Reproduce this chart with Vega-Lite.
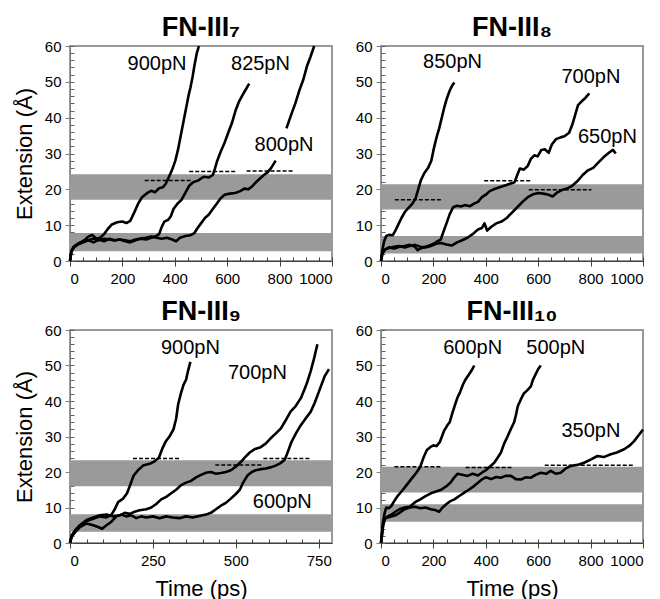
{
  "$schema": "https://vega.github.io/schema/vega-lite/v6.json",
  "padding": {"left": 12, "top": 13, "right": 0, "bottom": 0},
  "config": {
    "font": "Liberation Sans",
    "view": {"stroke": "#999999", "strokeWidth": 2},
    "title": {"fontSize": 27, "fontWeight": "bold", "offset": -3, "color": "black", "font": "Liberation Sans"},
    "axis": {"labelFontSize": 15, "titleFontSize": 22, "titleFontWeight": "normal", "labelColor": "black", "titleColor": "black", "grid": false, "labelOverlap": false, "labelFont": "Liberation Sans", "titleFont": "Liberation Sans", "zindex": 1}
  },
  "datasets": {
    "bands": [
      {"p": 7, "lo": 2.7, "hi": 7.8}, {"p": 7, "lo": 17.1, "hi": 24.2},
      {"p": 8, "lo": 2.1, "hi": 7.0}, {"p": 8, "lo": 14.4, "hi": 21.4},
      {"p": 9, "lo": 3.2, "hi": 8.1}, {"p": 9, "lo": 16.0, "hi": 23.3},
      {"p": 10, "lo": 6.0, "hi": 10.9}, {"p": 10, "lo": 14.2, "hi": 21.5}
    ],
    "dashes": [
      {"p": 7, "x1": 285, "x2": 465, "y": 22.5}, {"p": 7, "x1": 455, "x2": 633, "y": 25.0}, {"p": 7, "x1": 674, "x2": 852, "y": 25.1},
      {"p": 8, "x1": 53, "x2": 234, "y": 17.1}, {"p": 8, "x1": 394, "x2": 574, "y": 22.4}, {"p": 8, "x1": 564, "x2": 803, "y": 19.9},
      {"p": 9, "x1": 190, "x2": 331, "y": 23.8}, {"p": 9, "x1": 438, "x2": 581, "y": 22.0}, {"p": 9, "x1": 583, "x2": 724, "y": 23.8},
      {"p": 10, "x1": 51, "x2": 231, "y": 21.5}, {"p": 10, "x1": 323, "x2": 498, "y": 21.3}, {"p": 10, "x1": 625, "x2": 962, "y": 21.9}
    ],
    "labels": [
      {"p": 7, "x": 332, "y": 55, "label": "900pN"}, {"p": 7, "x": 727, "y": 55, "label": "825pN"}, {"p": 7, "x": 817, "y": 32.3, "label": "800pN"},
      {"p": 8, "x": 273, "y": 55.6, "label": "850pN"}, {"p": 8, "x": 801, "y": 51.4, "label": "700pN"}, {"p": 8, "x": 864, "y": 34.7, "label": "650pN"},
      {"p": 9, "x": 363, "y": 54.9, "label": "900pN"}, {"p": 9, "x": 565, "y": 47.8, "label": "700pN"}, {"p": 9, "x": 640, "y": 11.5, "label": "600pN"},
      {"p": 10, "x": 350, "y": 54.8, "label": "600pN"}, {"p": 10, "x": 667, "y": 54.8, "label": "500pN"}, {"p": 10, "x": 801, "y": 31.5, "label": "350pN"}
    ],
    "c7": [
      {"s": "900", "t": 0, "e": 0}, {"s": "900", "t": 5, "e": 2.5}, {"s": "900", "t": 12, "e": 3.8}, {"s": "900", "t": 25, "e": 4.5}, {"s": "900", "t": 40, "e": 5.2}, {"s": "900", "t": 55, "e": 5.8}, {"s": "900", "t": 70, "e": 6.8}, {"s": "900", "t": 85, "e": 7.3}, {"s": "900", "t": 100, "e": 6.2}, {"s": "900", "t": 115, "e": 6.5}, {"s": "900", "t": 130, "e": 7.5}, {"s": "900", "t": 145, "e": 9}, {"s": "900", "t": 160, "e": 10.2}, {"s": "900", "t": 180, "e": 10.8}, {"s": "900", "t": 200, "e": 11}, {"s": "900", "t": 215, "e": 10.6}, {"s": "900", "t": 230, "e": 11.2}, {"s": "900", "t": 245, "e": 13.5}, {"s": "900", "t": 260, "e": 16}, {"s": "900", "t": 275, "e": 17.8}, {"s": "900", "t": 295, "e": 19}, {"s": "900", "t": 310, "e": 19.6}, {"s": "900", "t": 325, "e": 19.2}, {"s": "900", "t": 340, "e": 20.3}, {"s": "900", "t": 355, "e": 20.6}, {"s": "900", "t": 365, "e": 21.5}, {"s": "900", "t": 378, "e": 23.5}, {"s": "900", "t": 390, "e": 25.5}, {"s": "900", "t": 402, "e": 28}, {"s": "900", "t": 412, "e": 31}, {"s": "900", "t": 420, "e": 34}, {"s": "900", "t": 428, "e": 37}, {"s": "900", "t": 436, "e": 40}, {"s": "900", "t": 444, "e": 43}, {"s": "900", "t": 452, "e": 46}, {"s": "900", "t": 460, "e": 48.5}, {"s": "900", "t": 468, "e": 51.5}, {"s": "900", "t": 476, "e": 55}, {"s": "900", "t": 484, "e": 58}, {"s": "900", "t": 492, "e": 60},
      {"s": "825", "t": 0, "e": 0}, {"s": "825", "t": 5, "e": 2.8}, {"s": "825", "t": 15, "e": 4}, {"s": "825", "t": 30, "e": 4.8}, {"s": "825", "t": 50, "e": 5.5}, {"s": "825", "t": 70, "e": 5.8}, {"s": "825", "t": 90, "e": 5.2}, {"s": "825", "t": 110, "e": 6}, {"s": "825", "t": 130, "e": 5.5}, {"s": "825", "t": 150, "e": 6.2}, {"s": "825", "t": 170, "e": 5.8}, {"s": "825", "t": 190, "e": 6}, {"s": "825", "t": 210, "e": 5.5}, {"s": "825", "t": 230, "e": 5.2}, {"s": "825", "t": 250, "e": 5.8}, {"s": "825", "t": 270, "e": 6.2}, {"s": "825", "t": 290, "e": 6}, {"s": "825", "t": 310, "e": 6.5}, {"s": "825", "t": 330, "e": 7}, {"s": "825", "t": 340, "e": 7.5}, {"s": "825", "t": 350, "e": 9.5}, {"s": "825", "t": 360, "e": 11}, {"s": "825", "t": 375, "e": 11.5}, {"s": "825", "t": 385, "e": 12.5}, {"s": "825", "t": 395, "e": 14.5}, {"s": "825", "t": 410, "e": 16}, {"s": "825", "t": 425, "e": 17}, {"s": "825", "t": 440, "e": 19}, {"s": "825", "t": 455, "e": 21}, {"s": "825", "t": 470, "e": 22}, {"s": "825", "t": 490, "e": 22.5}, {"s": "825", "t": 510, "e": 23.5}, {"s": "825", "t": 530, "e": 23.3}, {"s": "825", "t": 545, "e": 24}, {"s": "825", "t": 552, "e": 25.5}, {"s": "825", "t": 562, "e": 28}, {"s": "825", "t": 575, "e": 30.5}, {"s": "825", "t": 590, "e": 33}, {"s": "825", "t": 605, "e": 36}, {"s": "825", "t": 618, "e": 38.5}, {"s": "825", "t": 632, "e": 42}, {"s": "825", "t": 645, "e": 44.5}, {"s": "825", "t": 660, "e": 46.5}, {"s": "825", "t": 672, "e": 48}, {"s": "825", "t": 684, "e": 49.5},
      {"s": "800a", "t": 0, "e": 0}, {"s": "800a", "t": 5, "e": 2.5}, {"s": "800a", "t": 15, "e": 3.8}, {"s": "800a", "t": 30, "e": 4.6}, {"s": "800a", "t": 50, "e": 5.2}, {"s": "800a", "t": 70, "e": 5.8}, {"s": "800a", "t": 90, "e": 6.3}, {"s": "800a", "t": 110, "e": 5.8}, {"s": "800a", "t": 130, "e": 6.2}, {"s": "800a", "t": 150, "e": 6}, {"s": "800a", "t": 170, "e": 5.7}, {"s": "800a", "t": 190, "e": 6}, {"s": "800a", "t": 210, "e": 5.8}, {"s": "800a", "t": 230, "e": 5.5}, {"s": "800a", "t": 250, "e": 6}, {"s": "800a", "t": 270, "e": 6.3}, {"s": "800a", "t": 290, "e": 6.5}, {"s": "800a", "t": 310, "e": 6.8}, {"s": "800a", "t": 330, "e": 6.5}, {"s": "800a", "t": 350, "e": 6.2}, {"s": "800a", "t": 370, "e": 6.5}, {"s": "800a", "t": 390, "e": 6}, {"s": "800a", "t": 405, "e": 5.5}, {"s": "800a", "t": 420, "e": 6.5}, {"s": "800a", "t": 440, "e": 7}, {"s": "800a", "t": 460, "e": 7.2}, {"s": "800a", "t": 475, "e": 7.8}, {"s": "800a", "t": 485, "e": 9}, {"s": "800a", "t": 500, "e": 10.5}, {"s": "800a", "t": 515, "e": 12}, {"s": "800a", "t": 530, "e": 13}, {"s": "800a", "t": 545, "e": 14.5}, {"s": "800a", "t": 560, "e": 16}, {"s": "800a", "t": 575, "e": 17.5}, {"s": "800a", "t": 590, "e": 18.5}, {"s": "800a", "t": 610, "e": 18.8}, {"s": "800a", "t": 630, "e": 19}, {"s": "800a", "t": 650, "e": 19.5}, {"s": "800a", "t": 665, "e": 20.2}, {"s": "800a", "t": 680, "e": 20}, {"s": "800a", "t": 695, "e": 20.8}, {"s": "800a", "t": 710, "e": 22}, {"s": "800a", "t": 725, "e": 23}, {"s": "800a", "t": 740, "e": 24}, {"s": "800a", "t": 755, "e": 24.8}, {"s": "800a", "t": 768, "e": 26}, {"s": "800a", "t": 785, "e": 28},
      {"s": "800b", "t": 826, "e": 37}, {"s": "800b", "t": 845, "e": 41}, {"s": "800b", "t": 860, "e": 44}, {"s": "800b", "t": 875, "e": 47.5}, {"s": "800b", "t": 890, "e": 50.5}, {"s": "800b", "t": 905, "e": 54.5}, {"s": "800b", "t": 918, "e": 57}, {"s": "800b", "t": 932, "e": 60}
    ],
    "c8": [
      {"s": "850", "t": 0, "e": 0}, {"s": "850", "t": 5, "e": 3}, {"s": "850", "t": 12, "e": 5.5}, {"s": "850", "t": 20, "e": 7}, {"s": "850", "t": 30, "e": 7.3}, {"s": "850", "t": 45, "e": 7.2}, {"s": "850", "t": 55, "e": 8.5}, {"s": "850", "t": 65, "e": 10}, {"s": "850", "t": 78, "e": 12}, {"s": "850", "t": 92, "e": 13.8}, {"s": "850", "t": 105, "e": 14.8}, {"s": "850", "t": 120, "e": 16}, {"s": "850", "t": 132, "e": 17.5}, {"s": "850", "t": 142, "e": 20}, {"s": "850", "t": 152, "e": 22.5}, {"s": "850", "t": 165, "e": 24.5}, {"s": "850", "t": 180, "e": 26}, {"s": "850", "t": 192, "e": 28}, {"s": "850", "t": 202, "e": 31.5}, {"s": "850", "t": 212, "e": 34.5}, {"s": "850", "t": 222, "e": 37}, {"s": "850", "t": 232, "e": 40}, {"s": "850", "t": 242, "e": 43}, {"s": "850", "t": 252, "e": 45.5}, {"s": "850", "t": 262, "e": 47.5}, {"s": "850", "t": 272, "e": 49}, {"s": "850", "t": 280, "e": 49.8},
      {"s": "700", "t": 0, "e": 0}, {"s": "700", "t": 5, "e": 2}, {"s": "700", "t": 15, "e": 3.2}, {"s": "700", "t": 30, "e": 3.8}, {"s": "700", "t": 50, "e": 3.5}, {"s": "700", "t": 70, "e": 4}, {"s": "700", "t": 90, "e": 4.2}, {"s": "700", "t": 110, "e": 4.5}, {"s": "700", "t": 130, "e": 4}, {"s": "700", "t": 140, "e": 3}, {"s": "700", "t": 150, "e": 3.5}, {"s": "700", "t": 170, "e": 4}, {"s": "700", "t": 190, "e": 4.5}, {"s": "700", "t": 205, "e": 5}, {"s": "700", "t": 215, "e": 5.5}, {"s": "700", "t": 228, "e": 6}, {"s": "700", "t": 240, "e": 8.5}, {"s": "700", "t": 250, "e": 10.5}, {"s": "700", "t": 262, "e": 13}, {"s": "700", "t": 275, "e": 15}, {"s": "700", "t": 290, "e": 15.4}, {"s": "700", "t": 305, "e": 15.2}, {"s": "700", "t": 320, "e": 15.6}, {"s": "700", "t": 340, "e": 15.3}, {"s": "700", "t": 355, "e": 16}, {"s": "700", "t": 370, "e": 16.5}, {"s": "700", "t": 385, "e": 17.8}, {"s": "700", "t": 400, "e": 18.5}, {"s": "700", "t": 415, "e": 19.5}, {"s": "700", "t": 430, "e": 20}, {"s": "700", "t": 450, "e": 20.5}, {"s": "700", "t": 470, "e": 21}, {"s": "700", "t": 490, "e": 21.5}, {"s": "700", "t": 510, "e": 22}, {"s": "700", "t": 520, "e": 24}, {"s": "700", "t": 530, "e": 25.8}, {"s": "700", "t": 545, "e": 25.5}, {"s": "700", "t": 560, "e": 26.5}, {"s": "700", "t": 572, "e": 28.5}, {"s": "700", "t": 585, "e": 29.5}, {"s": "700", "t": 598, "e": 29.2}, {"s": "700", "t": 612, "e": 31}, {"s": "700", "t": 625, "e": 31.2}, {"s": "700", "t": 640, "e": 30.2}, {"s": "700", "t": 652, "e": 32.5}, {"s": "700", "t": 668, "e": 34}, {"s": "700", "t": 685, "e": 34.5}, {"s": "700", "t": 700, "e": 34.8}, {"s": "700", "t": 718, "e": 35.8}, {"s": "700", "t": 730, "e": 38}, {"s": "700", "t": 742, "e": 41}, {"s": "700", "t": 752, "e": 43.5}, {"s": "700", "t": 765, "e": 44.5}, {"s": "700", "t": 780, "e": 45.5}, {"s": "700", "t": 795, "e": 46.8},
      {"s": "650", "t": 0, "e": 0}, {"s": "650", "t": 5, "e": 2}, {"s": "650", "t": 15, "e": 3.2}, {"s": "650", "t": 30, "e": 3.6}, {"s": "650", "t": 50, "e": 4}, {"s": "650", "t": 70, "e": 4.2}, {"s": "650", "t": 90, "e": 3.8}, {"s": "650", "t": 110, "e": 4.2}, {"s": "650", "t": 130, "e": 4.5}, {"s": "650", "t": 150, "e": 4}, {"s": "650", "t": 170, "e": 3.8}, {"s": "650", "t": 190, "e": 4.2}, {"s": "650", "t": 210, "e": 4.8}, {"s": "650", "t": 230, "e": 5}, {"s": "650", "t": 250, "e": 4.6}, {"s": "650", "t": 270, "e": 4.3}, {"s": "650", "t": 290, "e": 5.2}, {"s": "650", "t": 310, "e": 5.8}, {"s": "650", "t": 330, "e": 6.5}, {"s": "650", "t": 350, "e": 7.5}, {"s": "650", "t": 370, "e": 8.8}, {"s": "650", "t": 385, "e": 9.2}, {"s": "650", "t": 395, "e": 10.5}, {"s": "650", "t": 405, "e": 8.5}, {"s": "650", "t": 420, "e": 9.5}, {"s": "650", "t": 440, "e": 10.5}, {"s": "650", "t": 460, "e": 11}, {"s": "650", "t": 480, "e": 12}, {"s": "650", "t": 500, "e": 13.5}, {"s": "650", "t": 520, "e": 15}, {"s": "650", "t": 540, "e": 16.5}, {"s": "650", "t": 560, "e": 17.8}, {"s": "650", "t": 580, "e": 18.6}, {"s": "650", "t": 600, "e": 19}, {"s": "650", "t": 620, "e": 18.8}, {"s": "650", "t": 640, "e": 18.5}, {"s": "650", "t": 655, "e": 18}, {"s": "650", "t": 670, "e": 19}, {"s": "650", "t": 690, "e": 19.8}, {"s": "650", "t": 710, "e": 20.2}, {"s": "650", "t": 730, "e": 21}, {"s": "650", "t": 750, "e": 22.3}, {"s": "650", "t": 770, "e": 24}, {"s": "650", "t": 790, "e": 25.3}, {"s": "650", "t": 810, "e": 26}, {"s": "650", "t": 830, "e": 27.5}, {"s": "650", "t": 850, "e": 29}, {"s": "650", "t": 870, "e": 30.2}, {"s": "650", "t": 885, "e": 31}, {"s": "650", "t": 896, "e": 30}
    ],
    "c9": [
      {"s": "900", "t": 0, "e": 0}, {"s": "900", "t": 5, "e": 2}, {"s": "900", "t": 15, "e": 3.5}, {"s": "900", "t": 30, "e": 5}, {"s": "900", "t": 50, "e": 6.2}, {"s": "900", "t": 70, "e": 6.8}, {"s": "900", "t": 90, "e": 7.5}, {"s": "900", "t": 110, "e": 7.2}, {"s": "900", "t": 125, "e": 8}, {"s": "900", "t": 135, "e": 9.5}, {"s": "900", "t": 145, "e": 11.5}, {"s": "900", "t": 160, "e": 12.5}, {"s": "900", "t": 172, "e": 14}, {"s": "900", "t": 182, "e": 16.5}, {"s": "900", "t": 192, "e": 19}, {"s": "900", "t": 205, "e": 20.5}, {"s": "900", "t": 220, "e": 21.8}, {"s": "900", "t": 240, "e": 22.3}, {"s": "900", "t": 255, "e": 23}, {"s": "900", "t": 268, "e": 24}, {"s": "900", "t": 278, "e": 26.5}, {"s": "900", "t": 288, "e": 28.5}, {"s": "900", "t": 300, "e": 30}, {"s": "900", "t": 312, "e": 32}, {"s": "900", "t": 320, "e": 35}, {"s": "900", "t": 326, "e": 39}, {"s": "900", "t": 334, "e": 42}, {"s": "900", "t": 342, "e": 44.5}, {"s": "900", "t": 350, "e": 46}, {"s": "900", "t": 356, "e": 48.5}, {"s": "900", "t": 363, "e": 51},
      {"s": "700", "t": 0, "e": 0}, {"s": "700", "t": 5, "e": 2}, {"s": "700", "t": 15, "e": 3.5}, {"s": "700", "t": 30, "e": 5}, {"s": "700", "t": 50, "e": 6.5}, {"s": "700", "t": 70, "e": 7.2}, {"s": "700", "t": 90, "e": 7.8}, {"s": "700", "t": 110, "e": 8}, {"s": "700", "t": 130, "e": 7.5}, {"s": "700", "t": 150, "e": 7.8}, {"s": "700", "t": 165, "e": 8.5}, {"s": "700", "t": 180, "e": 8.2}, {"s": "700", "t": 195, "e": 8.8}, {"s": "700", "t": 210, "e": 9.2}, {"s": "700", "t": 230, "e": 9.5}, {"s": "700", "t": 245, "e": 10}, {"s": "700", "t": 260, "e": 11}, {"s": "700", "t": 275, "e": 12.3}, {"s": "700", "t": 290, "e": 13}, {"s": "700", "t": 305, "e": 14}, {"s": "700", "t": 320, "e": 15}, {"s": "700", "t": 335, "e": 16.3}, {"s": "700", "t": 350, "e": 17}, {"s": "700", "t": 365, "e": 17.5}, {"s": "700", "t": 380, "e": 18.5}, {"s": "700", "t": 395, "e": 19.2}, {"s": "700", "t": 410, "e": 19.8}, {"s": "700", "t": 425, "e": 20}, {"s": "700", "t": 440, "e": 19.5}, {"s": "700", "t": 455, "e": 19.7}, {"s": "700", "t": 470, "e": 20}, {"s": "700", "t": 485, "e": 20.5}, {"s": "700", "t": 500, "e": 21.5}, {"s": "700", "t": 515, "e": 22.8}, {"s": "700", "t": 528, "e": 24.2}, {"s": "700", "t": 542, "e": 25.5}, {"s": "700", "t": 558, "e": 26.5}, {"s": "700", "t": 575, "e": 27}, {"s": "700", "t": 590, "e": 28}, {"s": "700", "t": 605, "e": 29.5}, {"s": "700", "t": 620, "e": 30.8}, {"s": "700", "t": 636, "e": 32.3}, {"s": "700", "t": 650, "e": 34.5}, {"s": "700", "t": 665, "e": 37}, {"s": "700", "t": 680, "e": 38.5}, {"s": "700", "t": 696, "e": 40.8}, {"s": "700", "t": 706, "e": 43}, {"s": "700", "t": 716, "e": 45.5}, {"s": "700", "t": 726, "e": 48.5}, {"s": "700", "t": 736, "e": 52}, {"s": "700", "t": 746, "e": 56},
      {"s": "600", "t": 0, "e": 0}, {"s": "600", "t": 5, "e": 1.8}, {"s": "600", "t": 15, "e": 3}, {"s": "600", "t": 30, "e": 4.5}, {"s": "600", "t": 50, "e": 5.5}, {"s": "600", "t": 70, "e": 5}, {"s": "600", "t": 85, "e": 4.5}, {"s": "600", "t": 97, "e": 4}, {"s": "600", "t": 110, "e": 5}, {"s": "600", "t": 125, "e": 6}, {"s": "600", "t": 140, "e": 7.5}, {"s": "600", "t": 155, "e": 8}, {"s": "600", "t": 170, "e": 7.5}, {"s": "600", "t": 185, "e": 7.8}, {"s": "600", "t": 200, "e": 7}, {"s": "600", "t": 215, "e": 7.5}, {"s": "600", "t": 230, "e": 7.2}, {"s": "600", "t": 250, "e": 7.5}, {"s": "600", "t": 270, "e": 7}, {"s": "600", "t": 290, "e": 7.5}, {"s": "600", "t": 310, "e": 7.2}, {"s": "600", "t": 330, "e": 7}, {"s": "600", "t": 350, "e": 7.5}, {"s": "600", "t": 370, "e": 7.2}, {"s": "600", "t": 390, "e": 7.6}, {"s": "600", "t": 410, "e": 8}, {"s": "600", "t": 425, "e": 8.5}, {"s": "600", "t": 440, "e": 9.5}, {"s": "600", "t": 455, "e": 10.5}, {"s": "600", "t": 470, "e": 11.3}, {"s": "600", "t": 485, "e": 12.5}, {"s": "600", "t": 500, "e": 13.8}, {"s": "600", "t": 512, "e": 15}, {"s": "600", "t": 522, "e": 17}, {"s": "600", "t": 535, "e": 19}, {"s": "600", "t": 548, "e": 20}, {"s": "600", "t": 560, "e": 20.5}, {"s": "600", "t": 575, "e": 20.8}, {"s": "600", "t": 590, "e": 21}, {"s": "600", "t": 605, "e": 21.3}, {"s": "600", "t": 620, "e": 21.8}, {"s": "600", "t": 635, "e": 22.5}, {"s": "600", "t": 648, "e": 23.5}, {"s": "600", "t": 658, "e": 26}, {"s": "600", "t": 668, "e": 28.5}, {"s": "600", "t": 682, "e": 31}, {"s": "600", "t": 696, "e": 33.2}, {"s": "600", "t": 710, "e": 35}, {"s": "600", "t": 726, "e": 37}, {"s": "600", "t": 738, "e": 39.5}, {"s": "600", "t": 748, "e": 42}, {"s": "600", "t": 758, "e": 44.5}, {"s": "600", "t": 768, "e": 47}, {"s": "600", "t": 781, "e": 49}
    ],
    "c10": [
      {"s": "600", "t": 0, "e": 0}, {"s": "600", "t": 4, "e": 3}, {"s": "600", "t": 8, "e": 6}, {"s": "600", "t": 14, "e": 8.5}, {"s": "600", "t": 20, "e": 10}, {"s": "600", "t": 30, "e": 9.8}, {"s": "600", "t": 40, "e": 10.5}, {"s": "600", "t": 52, "e": 12}, {"s": "600", "t": 64, "e": 13.3}, {"s": "600", "t": 78, "e": 14.5}, {"s": "600", "t": 90, "e": 15.6}, {"s": "600", "t": 105, "e": 17}, {"s": "600", "t": 120, "e": 18.4}, {"s": "600", "t": 135, "e": 19.8}, {"s": "600", "t": 150, "e": 21.5}, {"s": "600", "t": 162, "e": 24}, {"s": "600", "t": 175, "e": 26.2}, {"s": "600", "t": 188, "e": 27}, {"s": "600", "t": 200, "e": 27.5}, {"s": "600", "t": 212, "e": 27.3}, {"s": "600", "t": 225, "e": 28.5}, {"s": "600", "t": 240, "e": 31.5}, {"s": "600", "t": 252, "e": 33}, {"s": "600", "t": 262, "e": 34}, {"s": "600", "t": 272, "e": 36.5}, {"s": "600", "t": 282, "e": 38.8}, {"s": "600", "t": 292, "e": 41}, {"s": "600", "t": 302, "e": 42.5}, {"s": "600", "t": 312, "e": 44.5}, {"s": "600", "t": 322, "e": 46}, {"s": "600", "t": 335, "e": 47.4}, {"s": "600", "t": 345, "e": 48.5}, {"s": "600", "t": 356, "e": 50},
      {"s": "500", "t": 0, "e": 0}, {"s": "500", "t": 4, "e": 2.5}, {"s": "500", "t": 8, "e": 5}, {"s": "500", "t": 14, "e": 6.8}, {"s": "500", "t": 25, "e": 7.5}, {"s": "500", "t": 40, "e": 8}, {"s": "500", "t": 55, "e": 8.8}, {"s": "500", "t": 70, "e": 9.5}, {"s": "500", "t": 90, "e": 10}, {"s": "500", "t": 110, "e": 10.2}, {"s": "500", "t": 130, "e": 11.5}, {"s": "500", "t": 150, "e": 12.3}, {"s": "500", "t": 170, "e": 13.2}, {"s": "500", "t": 190, "e": 14}, {"s": "500", "t": 210, "e": 14.5}, {"s": "500", "t": 230, "e": 15}, {"s": "500", "t": 250, "e": 16}, {"s": "500", "t": 265, "e": 17}, {"s": "500", "t": 280, "e": 18.5}, {"s": "500", "t": 292, "e": 19.5}, {"s": "500", "t": 310, "e": 19.2}, {"s": "500", "t": 330, "e": 18.9}, {"s": "500", "t": 350, "e": 19.5}, {"s": "500", "t": 370, "e": 19}, {"s": "500", "t": 385, "e": 19.8}, {"s": "500", "t": 400, "e": 20.5}, {"s": "500", "t": 415, "e": 21.5}, {"s": "500", "t": 432, "e": 22.6}, {"s": "500", "t": 445, "e": 24}, {"s": "500", "t": 458, "e": 25.5}, {"s": "500", "t": 470, "e": 28}, {"s": "500", "t": 483, "e": 30}, {"s": "500", "t": 495, "e": 32}, {"s": "500", "t": 508, "e": 34}, {"s": "500", "t": 515, "e": 36}, {"s": "500", "t": 522, "e": 38.5}, {"s": "500", "t": 534, "e": 40.5}, {"s": "500", "t": 546, "e": 42.2}, {"s": "500", "t": 558, "e": 43}, {"s": "500", "t": 572, "e": 44.1}, {"s": "500", "t": 580, "e": 46}, {"s": "500", "t": 590, "e": 47.5}, {"s": "500", "t": 600, "e": 49}, {"s": "500", "t": 610, "e": 50},
      {"s": "350", "t": 0, "e": 0}, {"s": "350", "t": 4, "e": 2.5}, {"s": "350", "t": 8, "e": 5}, {"s": "350", "t": 14, "e": 6.8}, {"s": "350", "t": 25, "e": 7.2}, {"s": "350", "t": 40, "e": 7.5}, {"s": "350", "t": 55, "e": 7.8}, {"s": "350", "t": 70, "e": 8.5}, {"s": "350", "t": 90, "e": 9.5}, {"s": "350", "t": 110, "e": 10}, {"s": "350", "t": 130, "e": 10.2}, {"s": "350", "t": 150, "e": 9.8}, {"s": "350", "t": 170, "e": 10}, {"s": "350", "t": 190, "e": 9.5}, {"s": "350", "t": 210, "e": 9.2}, {"s": "350", "t": 222, "e": 8.8}, {"s": "350", "t": 235, "e": 10}, {"s": "350", "t": 250, "e": 11}, {"s": "350", "t": 265, "e": 11.8}, {"s": "350", "t": 280, "e": 12.3}, {"s": "350", "t": 300, "e": 13.3}, {"s": "350", "t": 318, "e": 14.2}, {"s": "350", "t": 335, "e": 15}, {"s": "350", "t": 356, "e": 16.1}, {"s": "350", "t": 370, "e": 17}, {"s": "350", "t": 385, "e": 17.9}, {"s": "350", "t": 400, "e": 18.5}, {"s": "350", "t": 420, "e": 18}, {"s": "350", "t": 440, "e": 18.6}, {"s": "350", "t": 457, "e": 18.4}, {"s": "350", "t": 475, "e": 18.9}, {"s": "350", "t": 496, "e": 18.9}, {"s": "350", "t": 515, "e": 18}, {"s": "350", "t": 534, "e": 17.9}, {"s": "350", "t": 552, "e": 18.5}, {"s": "350", "t": 572, "e": 18.4}, {"s": "350", "t": 590, "e": 19.2}, {"s": "350", "t": 610, "e": 19.8}, {"s": "350", "t": 630, "e": 19.5}, {"s": "350", "t": 648, "e": 20.3}, {"s": "350", "t": 668, "e": 19.5}, {"s": "350", "t": 686, "e": 19.8}, {"s": "350", "t": 705, "e": 21}, {"s": "350", "t": 724, "e": 21.7}, {"s": "350", "t": 750, "e": 22}, {"s": "350", "t": 775, "e": 22.6}, {"s": "350", "t": 800, "e": 23.5}, {"s": "350", "t": 826, "e": 24.5}, {"s": "350", "t": 850, "e": 24.2}, {"s": "350", "t": 877, "e": 25}, {"s": "350", "t": 900, "e": 25.5}, {"s": "350", "t": 928, "e": 26.4}, {"s": "350", "t": 950, "e": 27.5}, {"s": "350", "t": 966, "e": 28.7}, {"s": "350", "t": 985, "e": 30.5}, {"s": "350", "t": 1000, "e": 32}
    ]
  },
  "columns": 2,
  "spacing": {"row": 10, "column": 20},
  "concat": [
    {
      "width": 262, "height": 215, "title": "FN-III₇",
      "resolve": {"axis": {"x": "independent", "y": "independent"}},
      "layer": [
        {"data": {"name": "bands"}, "transform": [{"filter": "datum.p == 7"}], "mark": {"type": "rect", "color": "#9a9a9a"},
         "encoding": {
           "x": {"datum": 0, "type": "quantitative", "scale": {"domain": [0, 1000], "nice": false}, "axis": {"orient": "bottom", "title": null, "values": [0, 200, 400, 600, 800, 1000], "format": "d", "tickSize": 5, "domainColor": "#404040", "tickColor": "#404040", "labelPadding": 5}},
           "x2": {"datum": 1000},
           "y": {"field": "lo", "type": "quantitative", "scale": {"domain": [0, 60], "nice": false}, "axis": {"orient": "left", "title": "Extension (Å)", "values": [0, 10, 20, 30, 40, 50, 60], "format": "d", "tickSize": 5, "domainColor": "#808080", "tickColor": "#808080", "labelPadding": 4, "titlePadding": 8}},
           "y2": {"field": "hi"}
         }},
        {"data": {"name": "dashes"}, "transform": [{"filter": "datum.p == 7"}], "mark": {"type": "rule", "strokeDash": [4, 2], "strokeWidth": 1.5, "color": "black"},
         "encoding": {
           "x": {"field": "x1", "type": "quantitative", "axis": {"orient": "bottom", "title": null, "values": [0,50,100,150,200,250,300,350,400,450,500,550,600,650,700,750,800,850,900,950,1000], "labels": false, "domain": false, "tickSize": -4, "tickColor": "#404040"}},
           "x2": {"field": "x2"},
           "y": {"field": "y", "type": "quantitative", "axis": {"orient": "left", "title": null, "values": [0,2,4,6,8,10,12,14,16,18,20,22,24,26,28,30,32,34,36,38,40,42,44,46,48,50,52,54,56,58,60], "labels": false, "domain": false, "tickSize": -4, "tickColor": "#606060"}}
         }},
        {"data": {"name": "c7"}, "mark": {"type": "line", "color": "black", "strokeWidth": 2.6, "strokeJoin": "round"},
         "encoding": {"x": {"field": "t", "type": "quantitative", "axis": null}, "y": {"field": "e", "type": "quantitative", "axis": null}, "detail": {"field": "s"}, "order": {"field": "t"}}},
        {"data": {"name": "labels"}, "transform": [{"filter": "datum.p == 7"}], "mark": {"type": "text", "fontSize": 20, "color": "black", "align": "center", "baseline": "middle"},
         "encoding": {"x": {"field": "x", "type": "quantitative", "axis": null}, "y": {"field": "y", "type": "quantitative", "axis": null}, "text": {"field": "label"}}}
      ]
    },
    {
      "width": 262, "height": 215, "title": "FN-III₈",
      "resolve": {"axis": {"x": "independent", "y": "independent"}},
      "layer": [
        {"data": {"name": "bands"}, "transform": [{"filter": "datum.p == 8"}], "mark": {"type": "rect", "color": "#9a9a9a"},
         "encoding": {
           "x": {"datum": 0, "type": "quantitative", "scale": {"domain": [0, 1000], "nice": false}, "axis": {"orient": "bottom", "title": null, "values": [0, 200, 400, 600, 800, 1000], "format": "d", "tickSize": 5, "domainColor": "#404040", "tickColor": "#404040", "labelPadding": 5}},
           "x2": {"datum": 1000},
           "y": {"field": "lo", "type": "quantitative", "scale": {"domain": [0, 60], "nice": false}, "axis": {"orient": "left", "title": null, "values": [0, 10, 20, 30, 40, 50, 60], "format": "d", "tickSize": 5, "domainColor": "#808080", "tickColor": "#808080", "labelPadding": 4}},
           "y2": {"field": "hi"}
         }},
        {"data": {"name": "dashes"}, "transform": [{"filter": "datum.p == 8"}], "mark": {"type": "rule", "strokeDash": [4, 2], "strokeWidth": 1.5, "color": "black"},
         "encoding": {
           "x": {"field": "x1", "type": "quantitative", "axis": {"orient": "bottom", "title": null, "values": [0,50,100,150,200,250,300,350,400,450,500,550,600,650,700,750,800,850,900,950,1000], "labels": false, "domain": false, "tickSize": -4, "tickColor": "#404040"}},
           "x2": {"field": "x2"},
           "y": {"field": "y", "type": "quantitative", "axis": {"orient": "left", "title": null, "values": [0,2,4,6,8,10,12,14,16,18,20,22,24,26,28,30,32,34,36,38,40,42,44,46,48,50,52,54,56,58,60], "labels": false, "domain": false, "tickSize": -4, "tickColor": "#606060"}}
         }},
        {"data": {"name": "c8"}, "mark": {"type": "line", "color": "black", "strokeWidth": 2.6, "strokeJoin": "round"},
         "encoding": {"x": {"field": "t", "type": "quantitative", "axis": null}, "y": {"field": "e", "type": "quantitative", "axis": null}, "detail": {"field": "s"}, "order": {"field": "t"}}},
        {"data": {"name": "labels"}, "transform": [{"filter": "datum.p == 8"}], "mark": {"type": "text", "fontSize": 20, "color": "black", "align": "center", "baseline": "middle"},
         "encoding": {"x": {"field": "x", "type": "quantitative", "axis": null}, "y": {"field": "y", "type": "quantitative", "axis": null}, "text": {"field": "label"}}}
      ]
    },
    {
      "width": 262, "height": 213, "title": "FN-III₉",
      "resolve": {"axis": {"x": "independent", "y": "independent"}},
      "layer": [
        {"data": {"name": "bands"}, "transform": [{"filter": "datum.p == 9"}], "mark": {"type": "rect", "color": "#9a9a9a"},
         "encoding": {
           "x": {"datum": 0, "type": "quantitative", "scale": {"domain": [0, 790], "nice": false}, "axis": {"orient": "bottom", "title": "Time (ps)", "values": [0, 250, 500, 750], "format": "d", "tickSize": 5, "domainColor": "#404040", "tickColor": "#404040", "labelPadding": 5, "titlePadding": 10}},
           "x2": {"datum": 790},
           "y": {"field": "lo", "type": "quantitative", "scale": {"domain": [0, 60], "nice": false}, "axis": {"orient": "left", "title": "Extension (Å)", "values": [0, 10, 20, 30, 40, 50, 60], "format": "d", "tickSize": 5, "domainColor": "#808080", "tickColor": "#808080", "labelPadding": 4, "titlePadding": 8}},
           "y2": {"field": "hi"}
         }},
        {"data": {"name": "dashes"}, "transform": [{"filter": "datum.p == 9"}], "mark": {"type": "rule", "strokeDash": [4, 2], "strokeWidth": 1.5, "color": "black"},
         "encoding": {
           "x": {"field": "x1", "type": "quantitative", "axis": {"orient": "bottom", "title": null, "values": [0,50,100,150,200,250,300,350,400,450,500,550,600,650,700,750], "labels": false, "domain": false, "tickSize": -4, "tickColor": "#404040"}},
           "x2": {"field": "x2"},
           "y": {"field": "y", "type": "quantitative", "axis": {"orient": "left", "title": null, "values": [0,2,4,6,8,10,12,14,16,18,20,22,24,26,28,30,32,34,36,38,40,42,44,46,48,50,52,54,56,58,60], "labels": false, "domain": false, "tickSize": -4, "tickColor": "#606060"}}
         }},
        {"data": {"name": "c9"}, "mark": {"type": "line", "color": "black", "strokeWidth": 2.6, "strokeJoin": "round"},
         "encoding": {"x": {"field": "t", "type": "quantitative", "axis": null}, "y": {"field": "e", "type": "quantitative", "axis": null}, "detail": {"field": "s"}, "order": {"field": "t"}}},
        {"data": {"name": "labels"}, "transform": [{"filter": "datum.p == 9"}], "mark": {"type": "text", "fontSize": 20, "color": "black", "align": "center", "baseline": "middle"},
         "encoding": {"x": {"field": "x", "type": "quantitative", "axis": null}, "y": {"field": "y", "type": "quantitative", "axis": null}, "text": {"field": "label"}}}
      ]
    },
    {
      "width": 262, "height": 213, "title": "FN-III₁₀",
      "resolve": {"axis": {"x": "independent", "y": "independent"}},
      "layer": [
        {"data": {"name": "bands"}, "transform": [{"filter": "datum.p == 10"}], "mark": {"type": "rect", "color": "#9a9a9a"},
         "encoding": {
           "x": {"datum": 0, "type": "quantitative", "scale": {"domain": [0, 1000], "nice": false}, "axis": {"orient": "bottom", "title": "Time (ps)", "values": [0, 200, 400, 600, 800, 1000], "format": "d", "tickSize": 5, "domainColor": "#404040", "tickColor": "#404040", "labelPadding": 5, "titlePadding": 10}},
           "x2": {"datum": 1000},
           "y": {"field": "lo", "type": "quantitative", "scale": {"domain": [0, 60], "nice": false}, "axis": {"orient": "left", "title": null, "values": [0, 10, 20, 30, 40, 50, 60], "format": "d", "tickSize": 5, "domainColor": "#808080", "tickColor": "#808080", "labelPadding": 4}},
           "y2": {"field": "hi"}
         }},
        {"data": {"name": "dashes"}, "transform": [{"filter": "datum.p == 10"}], "mark": {"type": "rule", "strokeDash": [4, 2], "strokeWidth": 1.5, "color": "black"},
         "encoding": {
           "x": {"field": "x1", "type": "quantitative", "axis": {"orient": "bottom", "title": null, "values": [0,50,100,150,200,250,300,350,400,450,500,550,600,650,700,750,800,850,900,950,1000], "labels": false, "domain": false, "tickSize": -4, "tickColor": "#404040"}},
           "x2": {"field": "x2"},
           "y": {"field": "y", "type": "quantitative", "axis": {"orient": "left", "title": null, "values": [0,2,4,6,8,10,12,14,16,18,20,22,24,26,28,30,32,34,36,38,40,42,44,46,48,50,52,54,56,58,60], "labels": false, "domain": false, "tickSize": -4, "tickColor": "#606060"}}
         }},
        {"data": {"name": "c10"}, "mark": {"type": "line", "color": "black", "strokeWidth": 2.6, "strokeJoin": "round"},
         "encoding": {"x": {"field": "t", "type": "quantitative", "axis": null}, "y": {"field": "e", "type": "quantitative", "axis": null}, "detail": {"field": "s"}, "order": {"field": "t"}}},
        {"data": {"name": "labels"}, "transform": [{"filter": "datum.p == 10"}], "mark": {"type": "text", "fontSize": 20, "color": "black", "align": "center", "baseline": "middle"},
         "encoding": {"x": {"field": "x", "type": "quantitative", "axis": null}, "y": {"field": "y", "type": "quantitative", "axis": null}, "text": {"field": "label"}}}
      ]
    }
  ]
}
